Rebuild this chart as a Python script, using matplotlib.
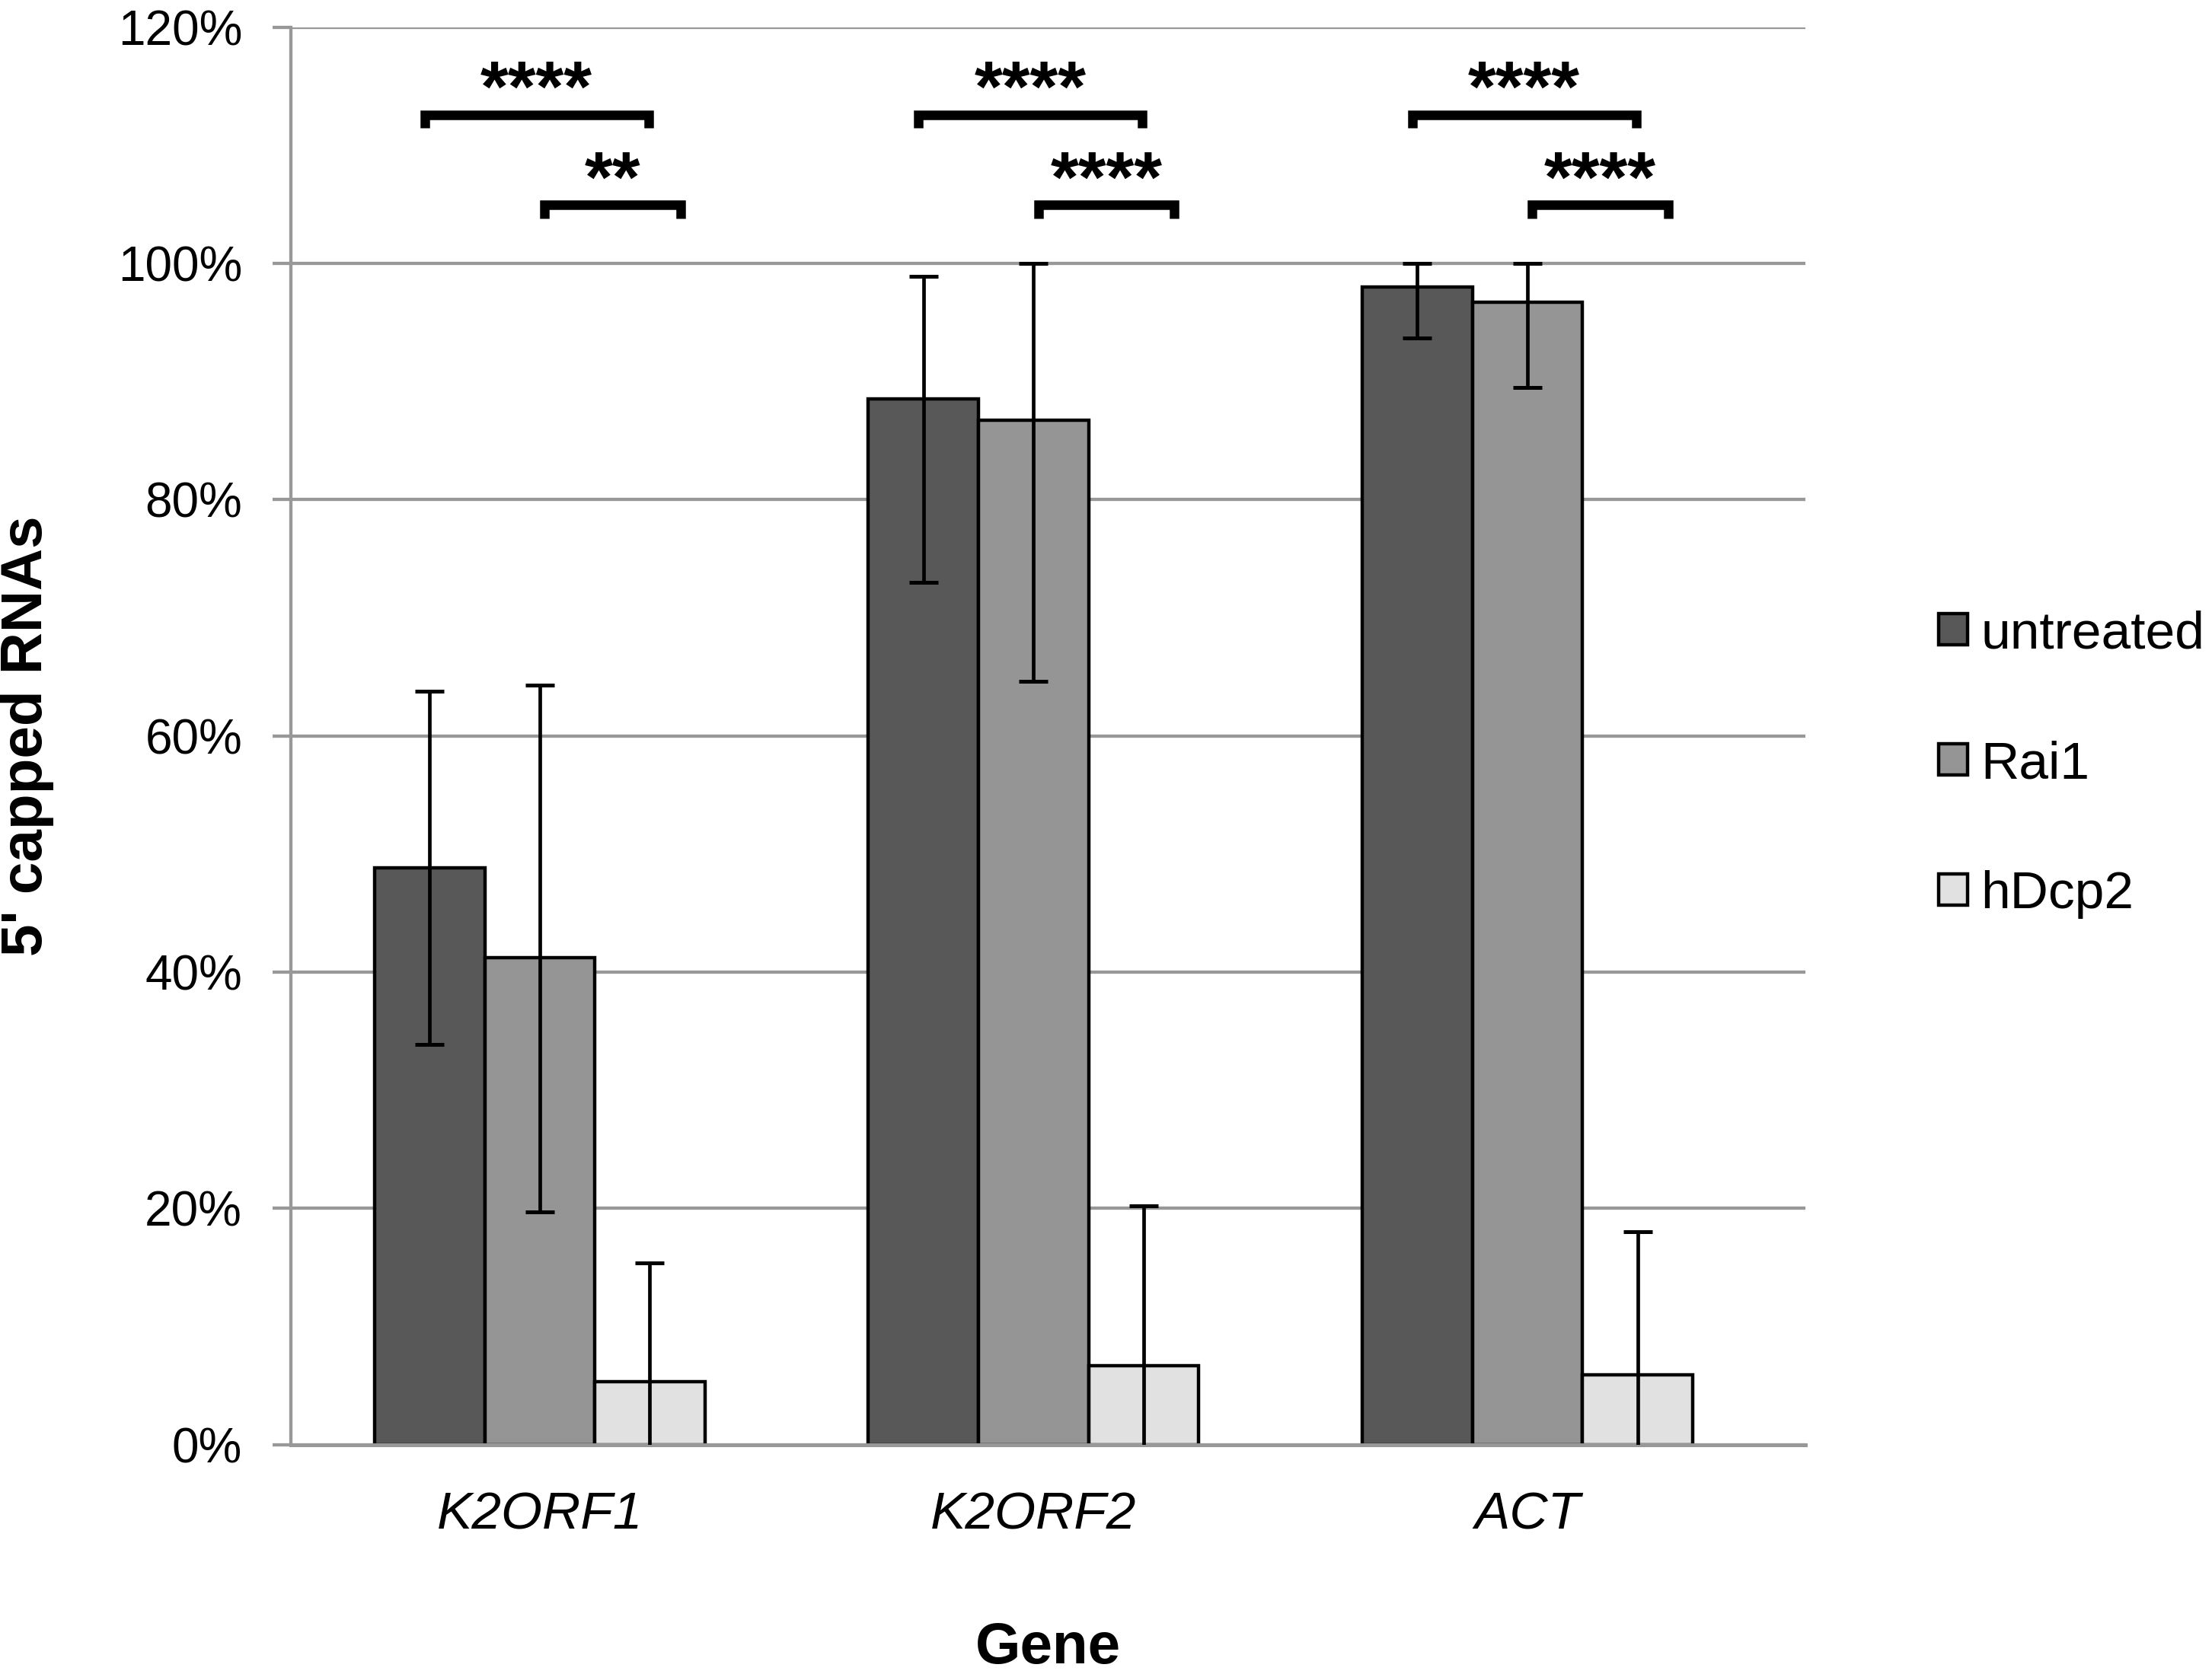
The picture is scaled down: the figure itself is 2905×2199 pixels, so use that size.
import matplotlib
matplotlib.use("Agg")
import matplotlib.pyplot as plt
import numpy as np

plt.rcParams['font.family'] = ['Liberation Sans', 'DejaVu Sans']

# data (percent of 5' capped RNAs)
genes = ['K2ORF1', 'K2ORF2', 'ACT']
series = ['untreated', 'Rai1', 'hDcp2']
untreated = [48.8, 88.5, 98.0]
rai1 = [41.2, 86.7, 96.7]
hdcp2 = [5.3, 6.7, 5.9]
# error bars: amount below / above the mean
untreated_lo = [14.9, 15.5, 4.3]
untreated_hi = [15.0, 10.4, 2.0]
rai1_lo = [21.5, 22.1, 7.2]
rai1_hi = [23.1, 13.3, 3.3]
hdcp2_lo = [10.1, 13.5, 12.1]
hdcp2_hi = [10.1, 13.5, 12.1]
colors = ['#585858', '#959595', '#e1e1e1']

# significance: (gene index, level, stars)
sig_marks = [
    (0, 1, '****'), (0, 0, '**'),
    (1, 1, '****'), (1, 0, '****'),
    (2, 1, '****'), (2, 0, '****'),
]

fig = plt.figure(figsize=(29.05, 21.99), dpi=100)
ax = fig.add_axes([0.1315, 0.1371, 0.6847, 0.8467])

x = np.arange(len(genes))
w = 0.223
vals = [untreated, rai1, hdcp2]
lows = [untreated_lo, rai1_lo, hdcp2_lo]
highs = [untreated_hi, rai1_hi, hdcp2_hi]

for i in range(3):
    xs = x + (i - 1) * w
    ax.bar(xs, vals[i], w, color=colors[i], edgecolor='black', linewidth=3.2,
           label=series[i], zorder=1)
    ax.errorbar(xs, vals[i], yerr=[lows[i], highs[i]], fmt='none', ecolor='black',
                elinewidth=3.4, capsize=13.7, capthick=3.6, zorder=3)

# brackets with stars
for g, lvl, txt in sig_marks:
    if lvl == 1:
        x0, x1 = x[g] - 0.233, x[g] + 0.22
        ytop, yleg, ystar = 112.57, 111.5, 114.5
    else:
        x0, x1 = x[g] + 0.01, x[g] + 0.285
        ytop, yleg, ystar = 104.94, 103.8, 106.8
    ax.plot([x0, x0, x1, x1], [yleg, ytop, ytop, yleg], color='black', lw=9,
            solid_joinstyle='miter', solid_capstyle='butt', clip_on=False, zorder=4)
    ax.text((x0 + x1) / 2, ystar, txt, ha='center', va='center', fontsize=68,
            fontweight='bold')

ax.set_xlim(-0.504, 2.563)
ax.set_ylim(0, 120)
ax.set_yticks(np.arange(0, 121, 20))
ax.set_yticklabels([f'{v}%' for v in range(0, 121, 20)])
ax.set_xticks(x)
ax.set_xticklabels(genes, fontstyle='italic', fontsize=50)

ax.yaxis.grid(True, color='#989898', linewidth=3.1)
ax.set_axisbelow(True)
for s in ['top', 'right']:
    ax.spines[s].set_visible(False)
ax.spines['left'].set_color('#989898')
ax.spines['left'].set_linewidth(3.1)
ax.spines['bottom'].set_color('#989898')
ax.spines['bottom'].set_linewidth(3.6)

ax.tick_params(axis='y', labelsize=46, length=17, width=3.1, color='#989898', pad=29)
ax.tick_params(axis='x', length=0, pad=44)

ax.set_ylabel("5' capped RNAs", fontsize=55, fontweight='bold', labelpad=60)
ax.set_xlabel('Gene', fontsize=55, fontweight='bold', labelpad=77)

ax.legend(loc='center left', bbox_to_anchor=(0.8764, 0.5434),
          bbox_transform=fig.transFigure, frameon=False, fontsize=50,
          handlelength=0.55, handleheight=0.55, handletextpad=0.25,
          labelspacing=1.54, borderpad=0, borderaxespad=0)

fig.savefig('out.png', dpi=100)
